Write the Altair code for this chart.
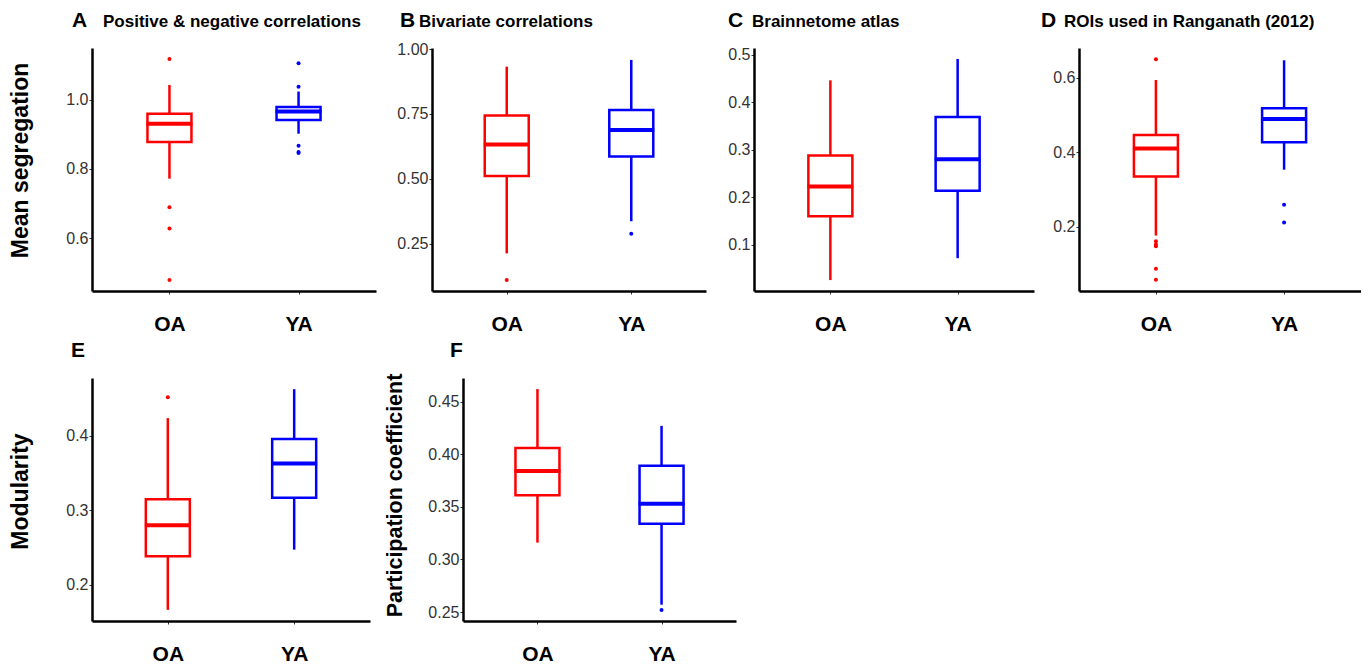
import altair as alt
import pandas as pd

FONT = "Liberation Sans"
groups = ["OA", "YA"]
colors = ["#FF0000", "#0000FF"]

panel_letters = ["A", "B", "C", "D", "E", "F"]
panel_titles = ["Positive & negative correlations", "Bivariate correlations",
                "Brainnetome atlas", "ROIs used in Ranganath (2012)", "", ""]
y_titles = ["Mean segregation", "", "", "", "Modularity", "Participation coefficient"]

# box statistics per panel: [OA, YA]
lower = {"A": [0.772, 0.902], "B": [0.212, 0.336], "C": [0.026, 0.072],
         "D": [0.176, 0.353], "E": [0.166, 0.247], "F": [0.316, 0.257]}
q1 = {"A": [0.878, 0.942], "B": [0.510, 0.586], "C": [0.160, 0.214],
      "D": [0.335, 0.427], "E": [0.238, 0.317], "F": [0.361, 0.334]}
median = {"A": [0.931, 0.966], "B": [0.632, 0.688], "C": [0.223, 0.280],
          "D": [0.410, 0.489], "E": [0.280, 0.363], "F": [0.384, 0.353]}
q3 = {"A": [0.960, 0.979], "B": [0.744, 0.765], "C": [0.288, 0.369],
      "D": [0.446, 0.518], "E": [0.315, 0.396], "F": [0.406, 0.389]}
upper = {"A": [1.043, 1.024], "B": [0.932, 0.958], "C": [0.446, 0.491],
         "D": [0.594, 0.647], "E": [0.424, 0.463], "F": [0.462, 0.427]}

outliers_oa = {"A": [1.118, 0.689, 0.628, 0.479], "B": [0.109], "C": [],
               "D": [0.650, 0.161, 0.152, 0.147, 0.087, 0.057], "E": [0.452], "F": []}
outliers_ya = {"A": [1.106, 1.038, 0.867, 0.849, 0.846], "B": [0.288], "C": [],
               "D": [0.259, 0.211], "E": [], "F": [0.252]}

y_domains = {"A": [0.447, 1.150], "B": [0.067, 1.004], "C": [0.003, 0.514],
             "D": [0.027, 0.680], "E": [0.151, 0.478], "F": [0.2415, 0.4725]}
y_ticks = {"A": [0.6, 0.8, 1.0], "B": [0.25, 0.5, 0.75, 1.0],
           "C": [0.1, 0.2, 0.3, 0.4, 0.5], "D": [0.2, 0.4, 0.6],
           "E": [0.2, 0.3, 0.4], "F": [0.25, 0.30, 0.35, 0.40, 0.45]}
y_formats = {"A": ".1f", "B": ".2f", "C": ".1f", "D": ".1f", "E": ".1f", "F": ".2f"}

# layout (pixels)
widths = {"A": 284, "B": 274, "C": 280, "D": 282, "E": 278, "F": 273}
label_ext = {"A": 26, "B": 35, "C": 26, "D": 26, "E": 26, "F": 35}
title_pad = {"A": 34, "E": 34, "F": 22}
title_size = {"A": 23, "E": 23, "F": 21.5}
title_y = {"A": 112, "E": 113, "F": 117}
letter_dx = {"A": -20, "B": -32, "C": -26, "D": -38, "E": -21, "F": -13}
title_dx = {"A": 11, "B": -13, "C": -2, "D": -15, "E": 0, "F": 0}
PH = 243


def panel(i):
    k = panel_letters[i]
    stats = pd.DataFrame({"group": groups, "lower": lower[k], "q1": q1[k],
                          "median": median[k], "q3": q3[k], "upper": upper[k]})
    out = pd.DataFrame({"group": ["OA"] * len(outliers_oa[k]) + ["YA"] * len(outliers_ya[k]),
                        "value": outliers_oa[k] + outliers_ya[k]})
    xs = alt.Scale(type="point", domain=groups, padding=0.6)
    x = alt.X("group:N", scale=xs, axis=alt.Axis(
        title=None, labelFont=FONT, labelFontSize=21, labelFontWeight="bold",
        labelColor="black", labelAngle=0, tickSize=3, tickColor="#333333",
        tickWidth=1, labelPadding=19, domainColor="black", domainWidth=2.5))
    ys = alt.Scale(domain=y_domains[k], nice=False, zero=False)
    yax_kwargs = dict(values=y_ticks[k], format=y_formats[k], labelFont=FONT,
                      labelFontSize=16, labelColor="#333333", tickSize=3,
                      tickColor="#333333", tickWidth=1, labelPadding=1,
                      domainColor="black", domainWidth=2.5, grid=False,
                      minExtent=label_ext[k], maxExtent=label_ext[k])
    if y_titles[i]:
        yax = alt.Axis(title=y_titles[i], titleFont=FONT, titleFontSize=title_size[k],
                       titleFontWeight="bold", titleColor="black",
                       titlePadding=title_pad[k], titleY=title_y[k], **yax_kwargs)
    else:
        yax = alt.Axis(title=None, **yax_kwargs)
    color = alt.Color("group:N", scale=alt.Scale(domain=groups, range=colors), legend=None)
    stroke = alt.Stroke("group:N", scale=alt.Scale(domain=groups, range=colors), legend=None)

    whisk = alt.Chart(stats).mark_rule(strokeWidth=2.5).encode(
        x=x, y=alt.Y("lower:Q", scale=ys, axis=yax), y2="upper:Q", color=color)
    box = alt.Chart(stats).mark_bar(size=44, fill="white", strokeWidth=2.5).encode(
        x=x, y=alt.Y("q1:Q", scale=ys, axis=yax), y2="q3:Q", stroke=stroke)
    med = alt.Chart(stats).mark_tick(size=46, thickness=4, opacity=1).encode(
        x=x, y=alt.Y("median:Q", scale=ys, axis=yax), color=color)
    layers = [whisk, box, med]
    if len(out):
        pts = alt.Chart(out).mark_circle(size=16, opacity=1).encode(
            x=x, y=alt.Y("value:Q", scale=ys, axis=yax), color=color)
        layers.append(pts)
    lt = alt.Chart(pd.DataFrame({"t": [k]})).mark_text(
        font=FONT, fontSize=21, fontWeight="bold", align="left",
        baseline="alphabetic", color="black").encode(
        text="t:N", x=alt.value(letter_dx[k]), y=alt.value(-21))
    layers.append(lt)
    if panel_titles[i]:
        tt = alt.Chart(pd.DataFrame({"t": [panel_titles[i]]})).mark_text(
            font=FONT, fontSize=17, fontWeight="bold", align="left",
            baseline="alphabetic", color="black").encode(
            text="t:N", x=alt.value(title_dx[k]), y=alt.value(-21))
        layers.append(tt)
    return alt.layer(*layers).properties(width=widths[k], height=PH)


A, B, C, D, E, F = [panel(i) for i in range(6)]

top = alt.hconcat(alt.hconcat(alt.hconcat(A, B, spacing=20), C, spacing=21), D, spacing=7)
bottom = alt.hconcat(E, F, spacing=13)
chart = alt.vconcat(top, bottom, spacing=6).properties(
    padding={"left": 1, "top": 2, "right": 0, "bottom": 0}
).configure(background="white").configure_view(strokeWidth=0, stroke="transparent")

chart.save("out.html", embed_options={"renderer": "svg", "actions": False})
